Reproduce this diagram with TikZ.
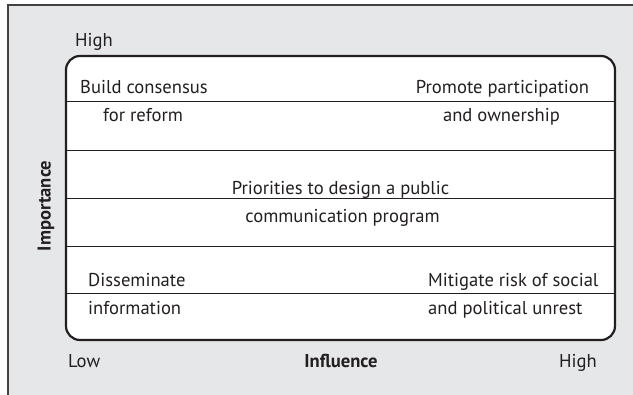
\documentclass[tikz,border=0pt]{standalone}
\usepackage{fontspec}
\setmainfont{PT Sans}
\begin{document}
\definecolor{panel}{HTML}{E6E7E8}
\definecolor{ink}{HTML}{231F20}
\begin{tikzpicture}[x=1pt,y=-1pt,
  lbl/.style={inner sep=0pt,text=ink,font=\fontsize{18.6}{20}\selectfont},
  axis/.style={lbl,font=\fontsize{18.6}{20}\selectfont\bfseries},
  rule/.style={draw=ink,line width=1pt}]
  \useasboundingbox (0,0) rectangle (633,395);
  % grey panel with its top and left border
  \fill[panel] (8,5) rectangle (633,395);
  \draw[draw=ink!85,line width=2pt] (8,395) -- (8,5) -- (633,5);
  % white priority grid
  \draw[draw=ink,line width=2.2pt,fill=white,rounded corners=14pt] (66,56) rectangle (615,340);
  \foreach \yy in {102,151,199,247,294} \draw[rule] (66,\yy) -- (615,\yy);
  % axis labels
  \node[lbl,anchor=base west] (ytop) at (75,47) {High};
  \node[lbl,anchor=base west] (xlow) at (68,368) {Low};
  \node[axis,anchor=base] (xname) at (341,368) {Influence};
  \node[lbl,anchor=base east] (xhigh) at (597,368) {High};
  \node[axis,rotate=90,anchor=center] (yname) at (46,206) {Importance};
  % quadrant texts
  \node[lbl,anchor=base] (bc1) at (144,94) {Build consensus};
  \node[lbl,anchor=base] (bc2) at (143,122) {for reform};
  \node[lbl,anchor=base] (pp1) at (502.5,94) {Promote participation};
  \node[lbl,anchor=base] (pp2) at (501.5,122) {and ownership};
  \node[lbl,anchor=base] (pr1) at (340.5,195) {Priorities to design a public};
  \node[lbl,anchor=base] (pr2) at (342.5,223) {communication program};
  \node[lbl,anchor=base west] (di1) at (88,287) {Disseminate};
  \node[lbl,anchor=base west] (di2) at (88,315) {information};
  \node[lbl,anchor=base west] (mi1) at (428,287) {Mitigate risk of social};
  \node[lbl,anchor=base west] (mi2) at (428,315) {and political unrest};
\end{tikzpicture}
\end{document}
